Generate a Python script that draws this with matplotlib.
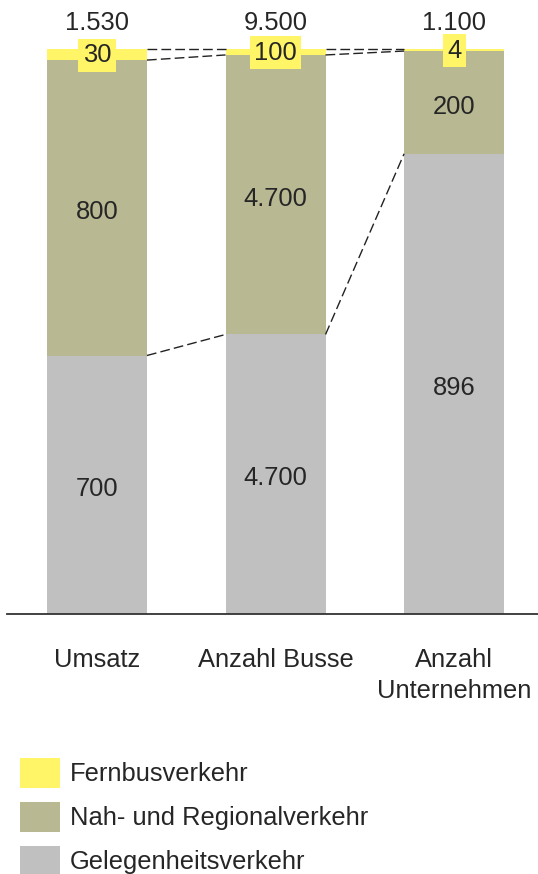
import matplotlib
matplotlib.use("Agg")
import matplotlib.pyplot as plt
import numpy as np

categories = ["Umsatz", "Anzahl Busse", "Anzahl\nUnternehmen"]
totals = ["1.530", "9.500", "1.100"]
gelegenheit = [700, 4700, 896]
nah_regional = [800, 4700, 200]
fernbus = [30, 100, 4]
gelegenheit_lbl = ["700", "4.700", "896"]
nah_lbl = ["800", "4.700", "200"]
fern_lbl = ["30", "100", "4"]
series_names = ["Fernbusverkehr", "Nah- und Regionalverkehr", "Gelegenheitsverkehr"]

c_fern = "#FFF566"
c_nah = "#B8B892"
c_gel = "#C0C0C0"
txt = "#262626"

plt.rcParams["font.family"] = ["Liberation Sans", "DejaVu Sans"]
FS = 18.4

g = np.array(gelegenheit, float)
n = np.array(nah_regional, float)
f = np.array(fernbus, float)
tot = g + n + f
gs, ns, fs = g / tot, n / tot, f / tot

fig = plt.figure(figsize=(5.38, 8.74), dpi=100)
ax = fig.add_axes([7 / 538, 1 - 614 / 874, 1 - 7 / 538, (614 - 49) / 874])
x = np.arange(len(categories))
w = 0.56
b1 = ax.bar(x, gs, w, color=c_gel, label=series_names[2], zorder=2)
b2 = ax.bar(x, ns, w, bottom=gs, color=c_nah, label=series_names[1], zorder=2)
b3 = ax.bar(x, fs, w, bottom=gs + ns, color=c_fern, label=series_names[0], zorder=2)

ax.set_xlim(-0.504, 2.47)
ax.set_ylim(0, 1)
for s in ["top", "left", "right"]:
    ax.spines[s].set_visible(False)
ax.spines["bottom"].set_color("#333333")
ax.spines["bottom"].set_linewidth(1.3)
ax.set_yticks([])
ax.set_xticks(x)
ax.set_xticklabels(categories, fontsize=FS, color=txt, linespacing=1.35)
ax.tick_params(axis="x", length=0, pad=24.5)

def lab(xi, yi, s, **kw):
    ax.annotate(s, (xi, yi), xytext=(0, -3), textcoords="offset points", ha="center", va="center",
                fontsize=FS, color=txt, zorder=4, **kw)

# segment labels
for i in range(len(x)):
    lab(x[i], gs[i] / 2, gelegenheit_lbl[i])
    lab(x[i], gs[i] + ns[i] / 2, nah_lbl[i])
    ax.annotate(fern_lbl[i], (x[i], gs[i] + ns[i] + fs[i] / 2), xytext=(0, -0.5), textcoords="offset points",
                ha="center", va="center", fontsize=FS, color=txt, zorder=4,
                bbox=dict(boxstyle="square,pad=0.17", fc=c_fern, ec="none"))
    ax.annotate(totals[i], (x[i], 1.0), xytext=(0, 19), textcoords="offset points", ha="center", va="center",
                fontsize=FS, color=txt, annotation_clip=False)

# connector lines
for i in range(len(x) - 1):
    xa, xb = x[i] + w / 2, x[i + 1] - w / 2
    for ya, yb in [(1.0, 1.0), (gs[i] + ns[i], gs[i + 1] + ns[i + 1]), (gs[i], gs[i + 1])]:
        ax.plot([xa, xb], [ya, yb], color="#222222", lw=1.0, ls=(0, (7, 3)), zorder=3, clip_on=False)

handles = [b3, b2, b1]
leg = fig.legend(handles, series_names, loc="upper left", bbox_to_anchor=(20 / 538, 1 - 758 / 874),
                 frameon=False, fontsize=FS, handlelength=1.56, handleheight=1.42, handletextpad=0.4,
                 labelspacing=0.55, borderpad=0, borderaxespad=0)
for t in leg.get_texts():
    t.set_color(txt)

fig.savefig("out.png", dpi=100)
